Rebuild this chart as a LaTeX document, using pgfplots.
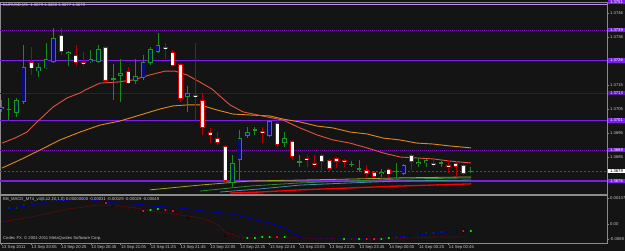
\documentclass[border=0pt]{standalone}
\usepackage{pgfplots}
\pgfplotsset{compat=1.18}
\usepackage{pgfplotstable}
\usepackage{fontspec}
\setmainfont{Liberation Sans}
\definecolor{bg}{HTML}{141414}
\definecolor{bullfill}{HTML}{0A0A78}
\definecolor{bullline}{HTML}{1A9A1A}
\definecolor{bullwick}{HTML}{1A8A1A}
\definecolor{bearline}{HTML}{E00000}
\definecolor{bearwick}{HTML}{B00000}
\definecolor{maRed}{HTML}{E0553A}
\definecolor{maOrange}{HTML}{E08A1E}
\definecolor{purpsolid}{HTML}{7A1FE8}
\definecolor{purpdot}{HTML}{7A10C0}
\definecolor{purpdark}{HTML}{3A1550}
\definecolor{toppurp}{HTML}{C090F0}
\definecolor{framec}{HTML}{8C8C8C}
\definecolor{txt}{HTML}{C8C8C8}
\definecolor{macdblue}{HTML}{0000B0}
\definecolor{sigred}{HTML}{A00000}
\definecolor{dotgreen}{HTML}{10F010}
\definecolor{dotred}{HTML}{FF1A2A}
\definecolor{bandolive}{HTML}{A0A030}
\definecolor{bandgreen}{HTML}{2E8B2E}
\definecolor{bandteal}{HTML}{4A8AB0}
\definecolor{bandred}{HTML}{FF0000}
\definecolor{curgray}{HTML}{505050}
\newcommand{\mtf}{\fontsize{4.2pt}{5pt}\selectfont}
\tikzset{plainlbl/.style={anchor=west, inner sep=0pt, text=txt, font=\mtf, xshift=3pt},
  hilbl/.style={anchor=west, inner xsep=2pt, inner ysep=0.9pt, fill=purpsolid, text=white, font=\mtf, xshift=0.8pt}}

\pgfplotstableread{
i o h l c
0 1.37060 1.37098 1.37048 1.37068
1 1.37060 1.37106 1.37014 1.37064
2 1.37043 1.37106 1.37027 1.37098
3 1.37089 1.37327 1.37081 1.37235
5 1.37218 1.37252 1.37193 1.37235
6 1.37231 1.37335 1.37227 1.37268
7 1.37256 1.37398 1.37252 1.37356
9 1.37289 1.37302 1.37239 1.37298
12 1.37256 1.37306 1.37252 1.37268
13 1.37256 1.37327 1.37252 1.37310
15 1.37185 1.37248 1.37098 1.37189
16 1.37198 1.37268 1.37089 1.37210
18 1.37177 1.37268 1.37164 1.37198
19 1.37189 1.37285 1.37181 1.37256
20 1.37252 1.37318 1.37243 1.37310
21 1.37298 1.37377 1.37293 1.37327
25 1.37110 1.37156 1.37048 1.37127
31 1.36752 1.36868 1.36735 1.36835
32 1.36848 1.36973 1.36764 1.36939
33 1.36948 1.36985 1.36939 1.36964
34 1.36973 1.36985 1.36952 1.36977
36 1.36948 1.37014 1.36943 1.37010
38 1.36918 1.36964 1.36902 1.36939
40 1.36839 1.36868 1.36818 1.36843
47 1.36827 1.36843 1.36818 1.36831
48 1.36810 1.36848 1.36798 1.36814
51 1.36789 1.36810 1.36777 1.36798
53 1.36798 1.36835 1.36768 1.36802
54 1.36789 1.36831 1.36785 1.36827
56 1.36831 1.36856 1.36818 1.36839
57 1.36835 1.36852 1.36818 1.36848
59 1.36835 1.36843 1.36818 1.36839
63 1.36798 1.36818 1.36793 1.36802
}\bull

\pgfplotstableread{
i o h l c
4 1.37256 1.37318 1.37202 1.37231
8 1.37368 1.37398 1.37285 1.37298
10 1.37285 1.37327 1.37239 1.37252
11 1.37256 1.37298 1.37239 1.37248
14 1.37318 1.37322 1.37172 1.37177
17 1.37218 1.37235 1.37164 1.37168
22 1.37318 1.37335 1.37268 1.37310
23 1.37298 1.37306 1.37235 1.37239
24 1.37248 1.37252 1.37089 1.37102
26 1.37118 1.37335 1.37006 1.37110
27 1.37098 1.37127 1.36952 1.36981
28 1.36964 1.36981 1.36918 1.36952
29 1.36939 1.36964 1.36910 1.36918
30 1.36906 1.36910 1.36756 1.36760
35 1.36968 1.36985 1.36918 1.36960
37 1.37002 1.37014 1.36902 1.36910
39 1.36927 1.36931 1.36848 1.36860
41 1.36856 1.36868 1.36818 1.36848
42 1.36835 1.36868 1.36818 1.36827
43 1.36868 1.36873 1.36806 1.36839
44 1.36848 1.36852 1.36798 1.36810
45 1.36856 1.36860 1.36814 1.36839
46 1.36848 1.36852 1.36818 1.36839
49 1.36806 1.36827 1.36773 1.36789
50 1.36798 1.36802 1.36773 1.36777
52 1.36810 1.36814 1.36777 1.36789
55 1.36868 1.36873 1.36806 1.36839
58 1.36835 1.36848 1.36818 1.36827
60 1.36827 1.36848 1.36793 1.36818
61 1.36835 1.36843 1.36777 1.36818
62 1.36827 1.36831 1.36785 1.36789
}\bear

\pgfplotstableread{
i v
1 0.000843
2 0.000843
3 0.001001
4 0.001107
5 0.001212
6 0.001318
7 0.001370
8 0.001370
45 -0.000791
47 -0.000791
53 -0.000685
54 -0.000685
55 -0.000580
56 -0.000527
57 -0.000474
58 -0.000474
59 -0.000422
60 -0.000422
61 -0.000369
}\greenS

\pgfplotstableread{
i v
20 0.000738
21 0.000791
33 -0.000738
34 -0.000738
35 -0.000685
36 -0.000685
38 -0.000685
46 -0.000791
48 -0.000791
51 -0.000791
52 -0.000738
63 -0.000369
}\greenB

\pgfplotstableread{
i v
9 0.001370
10 0.001370
11 0.001265
12 0.001265
13 0.001159
15 0.000949
16 0.000896
17 0.000843
18 0.000738
24 0.000580
25 0.000316
26 0.000158
27 0.000053
28 -0.000211
29 -0.000316
30 -0.000632
31 -0.000738
32 -0.000738
39 -0.000738
40 -0.000738
41 -0.000738
42 -0.000791
43 -0.000791
44 -0.000791
}\redS

\pgfplotstableread{
i v
14 0.001107
19 0.000685
22 0.000738
23 0.000685
37 -0.000685
49 -0.000791
50 -0.000791
62 -0.000369
}\redB

\begin{document}
\begin{tikzpicture}[x=1pt,y=1pt]
\useasboundingbox (0,0) rectangle (625,251);
\fill[bg] (0,0) rectangle (625,251);

% ---------------- main price panel ----------------
\begin{axis}[
  at={(0pt,57pt)}, anchor=south west,
  scale only axis, width=607pt, height=192pt,
  xmin=-0.2, xmax=81.27, ymin=1.367058, ymax=1.37506,
  axis line style={draw=framec, line width=0.9pt},
  xtick=\empty,
  ytick={1.3746,1.3736,1.3716,1.3706,1.3696,1.3686},
  yticklabels={},
  ytick pos=right, tick align=outside, major tick length=2pt,
  tick style={draw=framec, line width=0.5pt},
  clip mode=individual,
  scaled y ticks=false,
]
% horizontal line objects
\addplot[draw=toppurp, line width=1pt] coordinates {(-0.2,1.37494) (81.27,1.37494)};
\addplot[draw=purpdot, line width=0.9pt, dash pattern=on 1pt off 1pt] coordinates {(-0.2,1.37389) (81.27,1.37389)};
\addplot[draw=purpsolid, line width=1.1pt] coordinates {(-0.2,1.37262) (81.27,1.37262)};
\addplot[draw=purpdark, line width=0.8pt] coordinates {(-0.2,1.37127) (81.27,1.37127)};
\addplot[draw=purpsolid, line width=1.1pt] coordinates {(-0.2,1.37012) (81.27,1.37012)};
\addplot[draw=purpdot, line width=0.9pt, dash pattern=on 1pt off 1pt] coordinates {(-0.2,1.36889) (81.27,1.36889)};
\addplot[draw=curgray, line width=0.6pt, dash pattern=on 2pt off 2pt] coordinates {(-0.2,1.36802) (81.27,1.36802)};
\addplot[draw=purpsolid, line width=1.1pt] coordinates {(-0.2,1.36760) (81.27,1.36760)};

% lower band lines
\addplot[draw=bandolive, line width=0.8pt] coordinates {(19.93,1.36723) (26.64,1.36743) (33.36,1.36760) (40.07,1.36764) (46.78,1.36768) (53.49,1.36773) (63.02,1.36777)};
\addplot[draw=bandgreen, line width=0.8pt] coordinates {(26.64,1.36718) (33.36,1.36739) (40.07,1.36752) (46.78,1.36760) (53.49,1.36768) (63.02,1.36773)};
\addplot[draw=bandteal, line width=0.8pt] coordinates {(29.33,1.36714) (34.7,1.36727) (40.07,1.36743) (46.78,1.36752) (53.49,1.36760) (63.02,1.36764)};
\addplot[draw=bandred, line width=1.3pt] coordinates {(30.67,1.36710) (34.7,1.36714) (40.07,1.36723) (46.78,1.36731) (53.49,1.36739) (63.02,1.36748)};

% moving averages
\addplot[draw=maOrange, line width=0.9pt] coordinates {
(0.07,1.36814) (2.48,1.36848) (5.17,1.36889) (7.85,1.36931) (10.54,1.36964) (13.22,1.36993)
(15.91,1.37010) (18.59,1.37035) (21.28,1.37060) (23.02,1.37073) (24.9,1.37077) (26.64,1.37077)
(28.93,1.37056) (31.07,1.37039) (33.36,1.37035) (36.04,1.37031) (37.79,1.37018) (40.07,1.37006)
(42.35,1.36989) (44.5,1.36981) (46.78,1.36964) (49.06,1.36956) (51.21,1.36939) (53.49,1.36931)
(55.77,1.36918) (57.92,1.36914) (60.2,1.36906) (63.02,1.36898)};
\addplot[draw=maRed, line width=0.9pt] coordinates {
(0.07,1.36918) (1.81,1.36939) (3.42,1.36964) (4.77,1.37006) (6.91,1.37068) (8.79,1.37106)
(10.54,1.37127) (11.21,1.37139) (13.22,1.37168) (15.5,1.37172) (17.65,1.37181) (19.93,1.37202)
(21.95,1.37218) (23.29,1.37218) (24.9,1.37202) (26.64,1.37172) (28.26,1.37143) (30.67,1.37077)
(32.42,1.37048) (35.64,1.37027) (37.79,1.37014) (40.07,1.36981) (42.35,1.36952) (44.5,1.36931)
(46.78,1.36918) (49.06,1.36898) (51.21,1.36877) (53.49,1.36860) (57.92,1.36852) (60.2,1.36843)
(63.02,1.36835)};

% candle wicks
\addplot[draw=none, mark=none, error bars/.cd, y dir=both, y explicit, error mark=none,
  error bar style={draw=bullwick, line width=0.9pt}]
  table[x=i, y expr={(\thisrow{h}+\thisrow{l})/2}, y error expr={(\thisrow{h}-\thisrow{l})/2}] {\bull};
\addplot[draw=none, mark=none, error bars/.cd, y dir=both, y explicit, error mark=none,
  error bar style={draw=bearwick, line width=0.9pt}]
  table[x=i, y expr={(\thisrow{h}+\thisrow{l})/2}, y error expr={(\thisrow{h}-\thisrow{l})/2}] {\bear};
% candle bodies (border)
\addplot[draw=none, mark=none, error bars/.cd, y dir=both, y explicit, error mark=none,
  error bar style={draw=bullline, line width=4.6pt}]
  table[x=i, y expr={(\thisrow{o}+\thisrow{c})/2}, y error expr={abs(\thisrow{c}-\thisrow{o})/2}] {\bull};
\addplot[draw=none, mark=none, error bars/.cd, y dir=both, y explicit, error mark=none,
  error bar style={draw=bearline, line width=4.6pt}]
  table[x=i, y expr={(\thisrow{o}+\thisrow{c})/2}, y error expr={abs(\thisrow{c}-\thisrow{o})/2}] {\bear};
% candle bodies (fill)
\addplot[draw=none, mark=none, error bars/.cd, y dir=both, y explicit, error mark=none,
  error bar style={draw=bullfill, line width=3.0pt}]
  table[x=i, y expr={(\thisrow{o}+\thisrow{c})/2}, y error expr={max(abs(\thisrow{c}-\thisrow{o})/2-0.000034,0)}] {\bull};
\addplot[draw=none, mark=none, error bars/.cd, y dir=both, y explicit, error mark=none,
  error bar style={draw=white, line width=3.0pt}]
  table[x=i, y expr={(\thisrow{o}+\thisrow{c})/2}, y error expr={max(abs(\thisrow{c}-\thisrow{o})/2-0.000034,0)}] {\bear};

% title
\node[anchor=north west, inner sep=0pt, text=txt, font=\mtf] at (rel axis cs:0,1) [xshift=3pt, yshift=-1.6pt] {EURUSD,M5\ \ 1.3679 1.3680 1.3677 1.3679};

% right price scale labels
\node[plainlbl] at ({rel axis cs:1,0} |- {axis cs:0,1.3746}) {1.3746};
\node[plainlbl] at ({rel axis cs:1,0} |- {axis cs:0,1.3736}) {1.3736};
\node[plainlbl] at ({rel axis cs:1,0} |- {axis cs:0,1.3716}) {1.3715};
\node[plainlbl] at ({rel axis cs:1,0} |- {axis cs:0,1.3706}) {1.3705};
\node[plainlbl] at ({rel axis cs:1,0} |- {axis cs:0,1.3696}) {1.3695};
\node[plainlbl] at ({rel axis cs:1,0} |- {axis cs:0,1.3686}) {1.3685};
\node[hilbl] at ({rel axis cs:1,0} |- {axis cs:0,1.37506}) {1.3751};
\node[hilbl] at ({rel axis cs:1,0} |- {axis cs:0,1.37389}) {1.3739};
\node[hilbl] at ({rel axis cs:1,0} |- {axis cs:0,1.37262}) {1.3726};
\node[hilbl] at ({rel axis cs:1,0} |- {axis cs:0,1.37012}) {1.3701};
\node[hilbl] at ({rel axis cs:1,0} |- {axis cs:0,1.36889}) {1.3689};
\node[hilbl] at ({rel axis cs:1,0} |- {axis cs:0,1.36760}) {1.3676};
\node[hilbl, fill=purpsolid!70!black] at ({rel axis cs:1,0} |- {axis cs:0,1.37127}) {1.3713};
\node[hilbl, fill=white, text=black] at ({rel axis cs:1,0} |- {axis cs:0,1.36802}) {1.3679};
\end{axis}

% ---------------- indicator panel ----------------
\begin{axis}[
  at={(0pt,8pt)}, anchor=south west,
  scale only axis, width=607pt, height=48pt,
  xmin=-0.2, xmax=81.27, ymin=-0.0010013, ymax=0.0015283,
  axis line style={draw=framec, line width=0.9pt},
  xtick={0,4,...,60},
  xticklabels={13 Sep 2011,13 Sep 20:05,13 Sep 20:25,13 Sep 20:45,13 Sep 21:05,13 Sep 21:25,13 Sep 21:45,13 Sep 22:05,13 Sep 22:25,13 Sep 22:45,13 Sep 23:05,13 Sep 23:25,13 Sep 23:45,14 Sep 00:05,14 Sep 00:25,14 Sep 00:45},
  xtick pos=bottom,
  ytick={0.00137,0,-0.00079}, yticklabels={}, ytick pos=right,
  tick align=outside, major tick length=2pt,
  tick style={draw=framec, line width=0.5pt},
  xticklabel style={font=\mtf, text=txt, anchor=north west, inner sep=0pt, xshift=0.2pt, yshift=-0.6pt},
  clip mode=individual,
  scaled y ticks=false,
]
\addplot[draw=sigred, line width=0.7pt, densely dotted] coordinates {
(0,0.000105) (4,0.000369) (9,0.000791) (11,0.000896) (13,0.001001) (16,0.000949) (18,0.000843)
(20,0.000685) (22,0.000580) (24,0.000474) (26,0.000369) (28,0.000158) (29,-0.000053) (30,-0.000422)
(32,-0.000685) (33,-0.000738) (40,-0.000738) (49,-0.000791) (55,-0.000738) (58,-0.000685) (62,-0.000685)};
\addplot[draw=macdblue, line width=0.9pt] coordinates {
(0,0.000738) (4,0.001001) (6,0.001159) (9,0.001265) (11,0.001318) (13,0.001212) (15,0.001107)
(18,0.001054) (20,0.000949) (22,0.000896) (24,0.000843) (27,0.000685) (31,0.000527) (33,0.000316)
(36,0.000053) (38,-0.000211) (39,-0.000474) (40,-0.000685) (42,-0.000738) (47,-0.000738)
(51,-0.000738) (53,-0.000685) (56,-0.000580) (58,-0.000474) (60,-0.000422) (63,-0.000369)};
\addplot[only marks, mark=*, mark size=1.0pt, mark options={draw=none, fill=dotgreen}] table[x=i, y=v] {\greenS};
\addplot[only marks, mark=*, mark size=1.8pt, mark options={draw=none, fill=dotgreen}] table[x=i, y=v] {\greenB};
\addplot[only marks, mark=*, mark size=1.0pt, mark options={draw=none, fill=dotred}] table[x=i, y=v] {\redS};
\addplot[only marks, mark=*, mark size=1.8pt, mark options={draw=none, fill=dotred}] table[x=i, y=v] {\redB};

\node[anchor=west, inner sep=0pt, text=txt, font=\mtf] at (rel axis cs:0,1) [xshift=3pt, yshift=-4pt] {BB\_MACD\_MT4\_v4(6,12,10,1,0) 0.00000000 -0.00031 -0.00029 -0.00029 -0.00049};
\node[anchor=west, inner sep=0pt, text=txt, font=\mtf] at (rel axis cs:0,0) [xshift=3pt, yshift=5pt] {Codex FX. © 2001-2011 MetaQuotes Software Corp.};
\node[plainlbl] at ({rel axis cs:1,0} |- {axis cs:0,0.00137}) {0.00137};
\node[plainlbl] at ({rel axis cs:1,0} |- {axis cs:0,0}) {0.00};
\node[plainlbl, xshift=-0.6pt] at ({rel axis cs:1,0} |- {axis cs:0,-0.00079}) {-0.0008};
\end{axis}
\end{tikzpicture}
\end{document}
